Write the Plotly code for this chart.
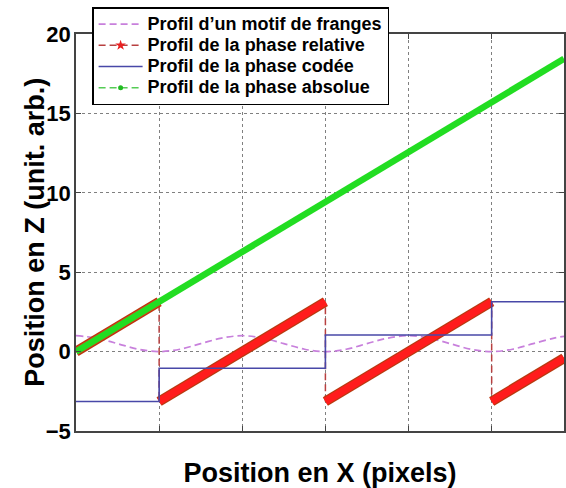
import plotly.graph_objects as go

# Position along the profile (pixels)
x_fringe = [0, 25, 50, 75, 100, 125, 150, 175, 200, 225, 250, 275, 300,
            325, 350, 375, 400, 425, 450, 475, 500, 525, 550, 575, 587]
# Fringe pattern intensity profile (normalised)
fringe = [1.0, 0.85, 0.5, 0.15, 0.0, 0.15, 0.5, 0.85, 1.0, 0.85, 0.5, 0.15, 0.0,
          0.15, 0.5, 0.85, 1.0, 0.85, 0.5, 0.15, 0.0, 0.15, 0.5, 0.85, 0.96]

# Relative (wrapped) phase: ramps between breakpoints
x_rel = [0, 100, 100, 300, 300, 500, 500, 587]
rel_phase = [0.0, 3.14, -3.14, 3.14, -3.14, 3.14, -3.14, -0.41]

# Coded phase: one level per fringe period
x_code = [0, 100, 300, 500, 587]
code_phase = [-3.14, -1.05, 1.05, 3.14, 3.14]

# Absolute (unwrapped) phase
x_abs = [0, 587]
abs_phase = [0.0, 18.44]

legend_names = [
    "Profil d\u2019un motif de franges",
    "Profil de la phase relative",
    "Profil de la phase cod\u00e9e",
    "Profil de la phase absolue",
]

FONT = "Liberation Sans, Arial, sans-serif"


def legend_label(text):
    return '<span style="font-size:18px">' + text + "</span>"


# Split the wrapped phase into its continuous ramps (gaps at the jumps)
band_x, band_y = [], []
for i in range(0, len(x_rel), 2):
    band_x += [x_rel[i], x_rel[i + 1], None]
    band_y += [rel_phase[i], rel_phase[i + 1], None]

fig = go.Figure()

# Fringe pattern
fig.add_trace(go.Scatter(
    x=x_fringe, y=fringe, mode="lines", line_shape="spline",
    line=dict(color="#c880dc", width=1.7, dash="7px,4px"),
    name=legend_label(legend_names[0])))

# Relative phase: thin dashed connector (shows the 2π jumps) and thick ramps
fig.add_trace(go.Scatter(
    x=x_rel, y=rel_phase, mode="lines",
    line=dict(color="#b84040", width=1.5, dash="7px,4px"),
    showlegend=False, hoverinfo="skip"))
fig.add_trace(go.Scatter(
    x=band_x, y=band_y, mode="lines",
    line=dict(color="#b83a10", width=10),
    showlegend=False, hoverinfo="skip"))
fig.add_trace(go.Scatter(
    x=band_x, y=band_y, mode="lines",
    line=dict(color="#ff1c1c", width=7.5),
    showlegend=False))
fig.add_trace(go.Scatter(
    x=[None], y=[None], mode="lines+markers",
    line=dict(color="#b84040", width=1.5, dash="7px,4px"),
    marker=dict(symbol="star", size=8, color="#e82020"),
    name=legend_label(legend_names[1])))

# Coded phase
fig.add_trace(go.Scatter(
    x=x_code, y=code_phase, mode="lines", line_shape="hv",
    line=dict(color="#4848a8", width=1.6),
    name=legend_label(legend_names[2])))

# Absolute phase
fig.add_trace(go.Scatter(
    x=x_abs, y=abs_phase, mode="lines",
    line=dict(color="#22dd22", width=6.5),
    showlegend=False))
fig.add_trace(go.Scatter(
    x=[None], y=[None], mode="lines+markers",
    line=dict(color="#55cc55", width=1.5, dash="7px,4px"),
    marker=dict(symbol="circle", size=5, color="#22bb22"),
    name=legend_label(legend_names[3])))

axis_common = dict(
    showline=True, linecolor="#444444", linewidth=1.5, mirror="ticks",
    ticks="inside", ticklen=5, tickcolor="#444444", tickwidth=1,
    showgrid=True, gridcolor="#808080", griddash="dot", gridwidth=1,
    zeroline=False,
)

fig.update_xaxes(
    range=[0, 587], tickvals=[100, 200, 300, 400, 500], showticklabels=False,
    title=dict(text="Position en X (pixels)", standoff=31,
               font=dict(family=FONT, size=27, color="black", weight=700)),
    **axis_common)
fig.update_yaxes(
    range=[-5, 20], tickvals=[-5, 0, 5, 10, 15, 20],
    tickfont=dict(family=FONT, size=22, color="black", weight=700),
    ticklabelstandoff=-1,
    **axis_common)

fig.update_layout(
    width=566, height=488,
    margin=dict(l=76, r=0, t=34, b=57),
    plot_bgcolor="white", paper_bgcolor="white",
    font=dict(family=FONT, color="black"),
    legend=dict(
        x=0.033, y=1.068, xanchor="left", yanchor="top",
        bgcolor="white", bordercolor="black", borderwidth=1.5,
        font=dict(family=FONT, size=14, color="black", weight=700),
        itemwidth=44,
    ),
    annotations=[dict(
        text="Position en Z (unit. arb.)", textangle=-90,
        xref="paper", yref="paper", x=(34 - 76) / 490, y=0.5,
        xanchor="center", yanchor="middle", showarrow=False,
        font=dict(family=FONT, size=27, color="black", weight=700),
    )],
)

fig.write_html("out.html")
